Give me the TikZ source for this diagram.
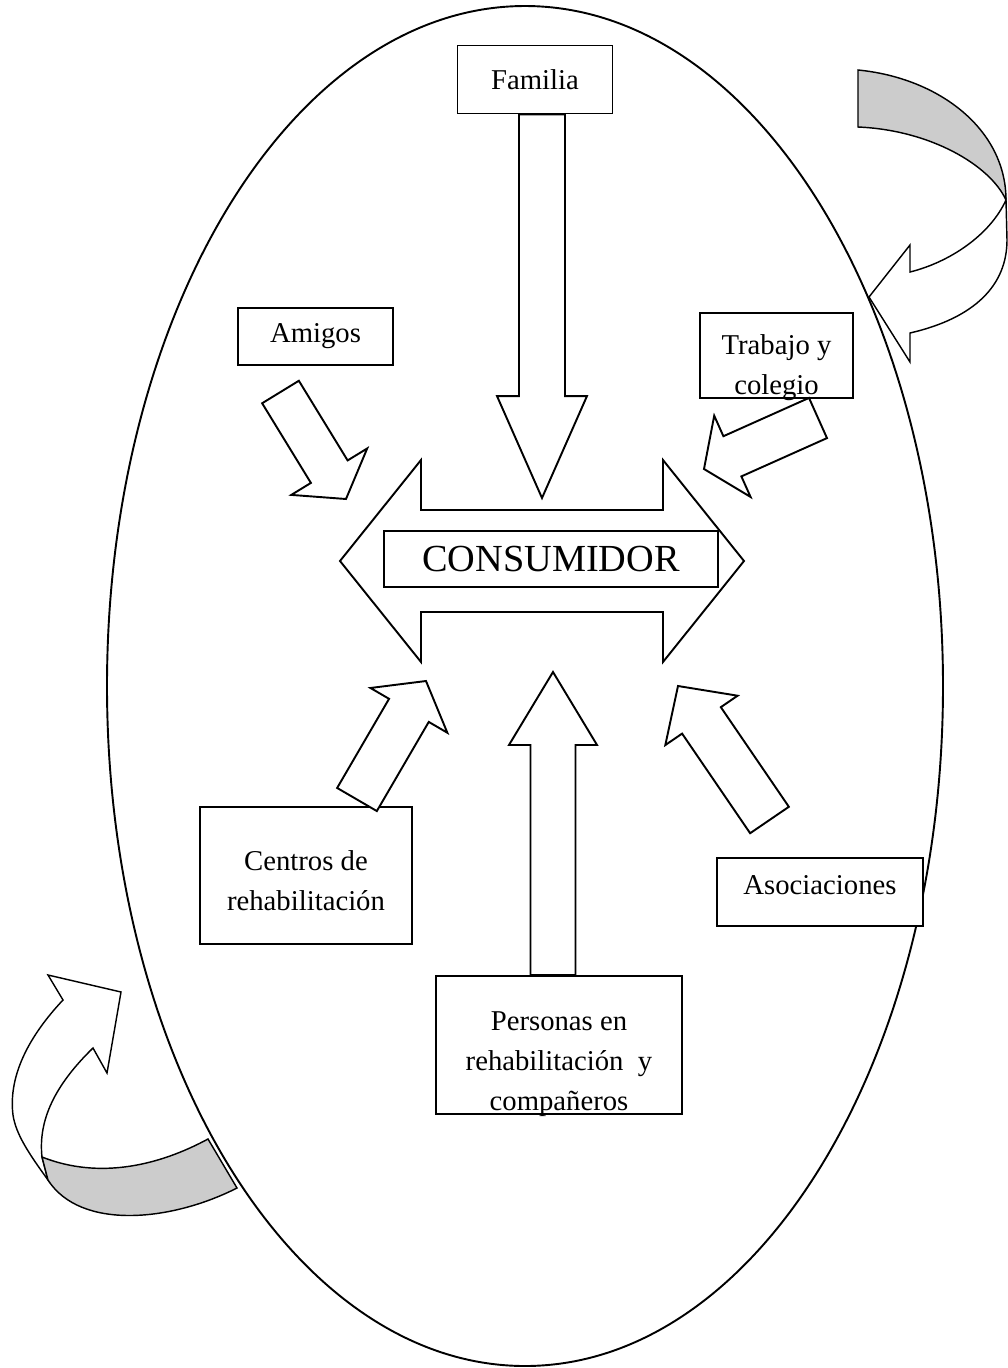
\documentclass[tikz,border=0pt]{standalone}
\usepackage{fontspec}
\setmainfont{Liberation Serif}
\usetikzlibrary{calc}
\colorlet{banda-gris}{gray!40}
\tikzset{
  caja/.style={draw, fill=white, line width=0.8pt, align=center, inner sep=0pt,
    font=\fontsize{12}{16.7}\selectfont},
  bloque/.style={draw, fill=white, line width=0.8pt, line join=miter},
  banda/.style={draw, fill=banda-gris, line width=0.6pt},
  cuerpo/.style={draw, fill=white, line width=0.6pt},
}
% block arrow: tail, tip, shaft half width, head half width, head length
\newcommand{\flechabloque}[5]{%
  \coordinate (base) at ($(#2)!#5!(#1)$);
  \draw[bloque] ($(#1)!#3!90:(#2)$) -- ($(base)!#3!-90:(#1)$) -- ($(base)!#4!-90:(#1)$) -- (#2)
    -- ($(base)!#4!90:(#1)$) -- ($(base)!#3!90:(#1)$) -- ($(#1)!#3!-90:(#2)$) -- cycle;}
% text of a box, moved up or down inside it
\newcommand{\lineas}[2]{\raisebox{#1}[0pt][0pt]{\begin{tabular}{@{}c@{}}#2\end{tabular}}}

\begin{document}
\begin{tikzpicture}[x=0.418pt, y=-0.418pt]
\useasboundingbox (0,0) rectangle (1008,1368);

% curved arrows
\draw[cuerpo] (1006,200) .. controls (990,235) and (950,262) .. (910,272) -- (910,245) -- (869,297)
  -- (910,362) -- (910,333) .. controls (975,318) and (1007,285) .. (1007,240) -- cycle;
\draw[banda] (858,70) .. controls (940,78) and (1006,130) .. (1006,200)
  .. controls (990,165) and (930,130) .. (858,127) -- cycle;
\draw[cuerpo] (42,1157) .. controls (38,1120) and (55,1085) .. (93,1048) -- (107,1073) -- (121,992)
  -- (48,975) -- (63,1000) .. controls (30,1035) and (8,1075) .. (13,1115)
  .. controls (16,1135) and (30,1155) .. (48,1180) -- cycle;
\draw[banda] (42,1157) .. controls (100,1180) and (160,1165) .. (208,1139) -- (237,1188)
  .. controls (170,1222) and (80,1230) .. (48,1180) -- cycle;

\draw[line width=0.8pt] (525,686) ellipse [x radius=418, y radius=680];

% boxes
\node[caja, minimum width=64.8pt, minimum height=28.4pt] at (535,79.5) (familia) {Familia};
\node[caja, minimum width=64.8pt, minimum height=23.8pt] at (315.5,336.5) (amigos) {Amigos};
\node[caja, minimum width=64.0pt, minimum height=35.5pt] at (776.5,355.5) (trabajo)
  {\lineas{-7.4pt}{Trabajo y\\colegio}};
\node[caja, minimum width=88.6pt, minimum height=57.3pt] at (306,875.5) (centros)
  {\lineas{-5.9pt}{Centros de\\rehabilitación}};
\node[caja, minimum width=86.1pt, minimum height=28.4pt] at (820,892) (asociaciones)
  {\lineas{-0.6pt}{Asociaciones}};
\node[caja, minimum width=102.8pt, minimum height=57.7pt] at (559,1045) (personas)
  {\lineas{-10.3pt}{Personas en\\rehabilitación\ \ y\\compañeros}};

% double arrow
\draw[bloque] (340,561) -- (421,460) -- (421,510) -- (663,510) -- (663,460) -- (744,561)
  -- (663,662) -- (663,612) -- (421,612) -- (421,662) -- cycle;
\node[caja, minimum width=139.6pt, minimum height=23.4pt, font=\fontsize{16}{19}\selectfont]
  at (551,559) (consumidor) {CONSUMIDOR};

% arrows to the consumer
\coordinate (familia-punta) at (542,498);
\coordinate (familia-cola) at (familia.south -| familia-punta);
\coordinate (personas-punta) at (553,672);
\coordinate (personas-cola) at (personas.north -| personas-punta);
\coordinate (amigos-cola) at (280.5,392);
\coordinate (amigos-punta) at (346,499);
\coordinate (trabajo-cola) at (818,418);
\coordinate (trabajo-punta) at (704,469);
\coordinate (centros-cola) at (357,799.5);
\coordinate (centros-punta) at (426,681);
\coordinate (asociaciones-cola) at (769.5,820);
\coordinate (asociaciones-punta) at (678,686);
\flechabloque{familia-cola}{familia-punta}{9.6pt}{18.8pt}{42.6pt}
\flechabloque{personas-cola}{personas-punta}{9.4pt}{18.4pt}{30.5pt}
\flechabloque{amigos-cola}{amigos-punta}{9.0pt}{18.6pt}{13.4pt}
\flechabloque{trabajo-cola}{trabajo-punta}{9.2pt}{18.6pt}{13.0pt}
\flechabloque{centros-cola}{centros-punta}{9.6pt}{18.6pt}{14.2pt}
\flechabloque{asociaciones-cola}{asociaciones-punta}{9.8pt}{18.3pt}{17.4pt}
\end{tikzpicture}
\end{document}
